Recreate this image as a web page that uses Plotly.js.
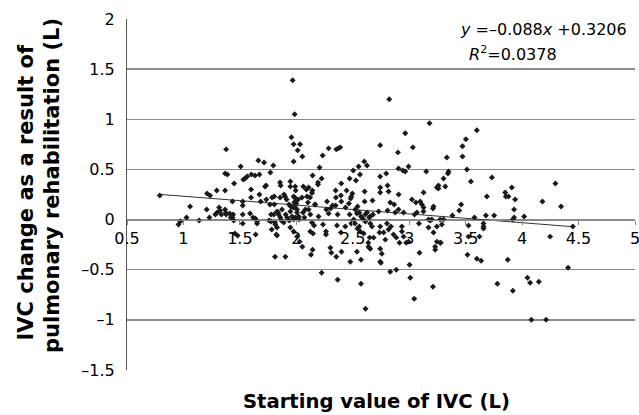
<!DOCTYPE html>
<html>
<head>
<meta charset="utf-8">
<script src="https://cdn.plot.ly/plotly-3.0.1.min.js"></script>
<style>html,body{margin:0;padding:0;background:#fff;}#chart{width:639px;height:415px;}</style>
</head>
<body>
<div id="chart"></div>
<script>
// Starting value of IVC (L) and IVC change (L)
var startIVC = [
0.79,0.956,0.973,1.027,1.059,1.139,1.206,1.23,1.21,1.236,1.295,1.283,1.298,1.316,1.325,1.336,1.369,1.374,1.41,1.44,1.419,1.445,1.369,1.378,1.369,1.389,1.449,1.434,1.507,1.457,1.48,1.378,1.434,
1.525,1.525,1.525,1.525,1.531,1.546,1.564,1.599,1.599,1.673,1.602,1.634,1.673,1.664,1.714,1.796,1.684,1.723,1.59,1.617,1.637,1.652,1.652,1.64,1.732,1.77,1.734,1.785,1.767,1.805,
1.758,1.776,1.811,1.829,1.782,1.823,1.829,1.811,1.903,1.858,1.776,1.814,1.838,1.867,1.888,1.905,1.918,1.938,1.962,1.976,1.947,1.976,2.006,2.029,2.053,1.935,1.982,2.015,
1.856,1.861,1.891,1.90,1.914,1.856,1.947,1.947,1.994,1.985,2.0,1.95,1.97,1.99,1.956,1.976,2.033,2.012,2.053,1.976,1.967,1.985,1.99,2.088,2.139,2.062,2.109,2.142,2.095,2.121,
2.144,2.224,2.192,2.192,2.165,2.206,2.233,2.286,2.354,2.372,2.389,
1.805,1.976,1.991,2.05,2.103,2.08,2.006,1.947,1.873,1.829,1.843,1.80,1.991,2.021,
2.006,2.024,2.059,2.071,2.109,2.124,2.139,2.157,2.124,2.148,2.13,2.144,2.168,2.197,2.224,2.236,2.263,2.263,2.265,2.286,2.304,2.321,2.348,2.366,
2.301,2.31,2.354,2.40,2.366,2.36,2.395,2.434,2.472,2.487,2.507,2.436,2.466,2.522,2.537,2.558,2.573,2.587,2.611,2.626,2.646,2.679,
2.519,2.542,2.558,2.566,2.537,2.478,2.573,2.573,2.613,2.637,2.646,2.649,2.596,2.611,2.655,2.737,2.743,2.272,2.543,
2.398,2.348,2.395,2.351,2.445,2.496,2.481,2.472,2.528,2.504,2.564,2.552,2.602,2.626,2.605,2.675,2.398,2.487,2.605,2.743,2.743,2.743,
2.823,3.18,3.599,2.965,3.032,3.502,3.472,3.472,2.90,2.905,2.944,2.965,2.994,3.151,3.333,3.348,2.796,2.808,2.743,2.817,2.832,2.867,
3.024,3.059,3.097,3.112,3.068,3.126,3.215,3.21,3.245,3.319,3.304,3.127,2.729,2.808,2.876,2.905,2.95,3.047,3.171,3.20,3.274,
2.655,2.67,2.743,2.803,2.817,2.861,2.885,2.935,2.95,2.994,2.64,2.655,2.743,2.788,3.171,3.215,3.245,3.274,3.23,3.23,3.091,
2.832,2.885,3.003,3.009,3.21,3.044,3.304,3.289,3.245,2.749,2.757,2.773,2.838,2.914,2.935,2.973,3.086,3.186,2.684,2.906,3.127,3.259,3.259,
3.511,3.343,3.546,3.732,3.688,3.85,3.856,3.879,3.909,3.938,3.929,3.918,3.929,4.018,4.18,4.295,4.345,3.383,3.443,3.46,3.578,3.679,3.752,
3.525,3.658,3.658,3.658,3.622,3.525,3.28,3.516,3.599,3.637,3.873,4.248,4.449,4.407,3.781,3.918,4.047,4.071,4.148,4.082,4.212
];
var changeIVC = [
0.24,-0.05,-0.02,0.02,0.13,-0.01,0.10,0.02,0.26,0.24,0.29,0.05,0.07,0.12,0.09,0.05,0.10,0.07,0.06,0.05,0.02,-0.01,0.29,0.70,0.46,0.45,0.36,0.18,0.53,-0.14,-0.16,0.05,0.02,
0.18,0.14,0.05,-0.04,0.40,0.41,0.43,0.30,0.22,0.25,0.45,0.44,0.45,0.59,0.57,0.54,0.18,0.33,0.06,0.02,0.01,-0.02,-0.04,-0.15,0.34,0.47,0.20,0.22,0.15,0.15,
-0.01,-0.02,-0.03,-0.08,-0.10,-0.15,-0.16,-0.37,-0.37,0.02,0.05,-0.05,0.07,-0.01,-0.03,0.05,0.02,-0.01,0.03,0.0,-0.08,-0.12,-0.17,-0.22,-0.27,0.15,0.17,0.20,
0.37,0.34,0.25,0.23,0.20,0.22,0.38,0.33,0.29,0.22,0.16,0.13,0.12,0.12,0.82,0.75,0.75,0.69,0.63,0.58,1.39,1.05,0.33,0.30,0.265,0.33,0.32,0.29,0.23,0.22,
0.44,0.41,0.37,0.35,0.15,0.52,0.64,0.71,0.70,0.71,0.72,
0.23,0.23,0.18,0.22,0.17,0.10,0.10,0.08,0.10,0.08,0.05,0.05,0.02,0.03,
0.07,0.0,0.07,0.02,0.10,0.05,-0.03,-0.06,-0.12,-0.14,-0.35,-0.30,0.15,0.03,-0.53,-0.05,-0.12,-0.15,0.10,0.06,0.11,0.14,0.14,0.05,
-0.28,-0.33,-0.37,-0.32,-0.60,-0.06,-0.13,-0.07,0.05,-0.04,0.0,0.12,0.16,0.10,0.06,0.07,0.03,0.01,0.05,0.07,0.02,0.05,
-0.04,-0.09,-0.07,-0.12,-0.32,-0.42,-0.40,-0.64,-0.89,-0.23,-0.28,-0.18,-0.14,-0.02,-0.04,-0.13,-0.42,0.18,0.13,
0.36,0.29,0.24,0.22,0.29,0.26,0.21,0.41,0.39,0.49,0.45,0.53,0.58,0.54,0.28,0.19,0.18,0.23,0.18,0.74,0.43,0.32,
1.20,0.96,0.89,0.86,0.72,0.80,0.73,0.63,0.67,0.51,0.49,0.48,0.53,0.48,0.62,0.48,0.46,0.34,0.27,0.28,0.17,0.15,
0.20,0.17,0.18,0.15,0.07,0.08,0.13,0.11,0.32,0.33,0.41,0.27,0.08,0.09,0.07,0.10,0.07,0.05,0.0,0.0,0.0,
0.03,-0.07,-0.07,-0.04,-0.10,-0.15,-0.18,-0.07,-0.17,-0.22,-0.27,-0.29,-0.29,-0.20,-0.08,-0.13,-0.22,-0.23,-0.27,-0.30,-0.33,
-0.52,-0.50,-0.45,-0.58,-0.67,-0.79,0.0,-0.05,-0.07,-0.43,-0.34,-0.13,-0.07,-0.23,-0.12,-0.23,-0.04,-0.01,-0.18,0.25,0.12,0.34,0.31,
0.50,0.46,0.38,0.42,0.23,0.27,0.23,0.23,0.32,0.20,0.10,0.0,0.02,0.03,0.18,0.36,0.13,0.04,0.09,0.15,0.02,0.04,0.04,
-0.06,-0.04,-0.07,-0.09,-0.17,-0.17,-0.23,-0.35,-0.39,-0.41,-0.40,-0.17,-0.07,-0.48,-0.64,-0.71,-0.58,-0.63,-0.62,-1.0,-1.0
];
// Linear trend reported on the chart
var trendSlope = -0.088;
var trendIntercept = 0.3206;
var trendLabel = "<i>y</i> =–0.088<i>x</i> +0.3206";
var r2Label = "<i>R</i><sup>2</sup>=0.0378";
var xTickVals = [0.5,1,1.5,2,2.5,3,3.5,4,4.5,5];
var xTickText = ["0.5","1","1.5","2","2.5","3","3.5","4","4.5","5"];
var yTickVals = [-1.5,-1,-0.5,0,0.5,1,1.5,2];
var yTickText = ["–1.5","–1","–0.5","0","0.5","1","1.5","2"];
var xTitle = "Starting value of IVC (L)";
var yTitleLines = ["IVC change as a result of", "pulmonary rehabilitation (L)"];

var xMin = Math.min.apply(null, startIVC);
var xMax = Math.max.apply(null, startIVC);
var trendX = [xMin, xMax];
var trendY = trendX.map(function(v){ return trendSlope * v + trendIntercept; });

var FONT = "DejaVu Sans, sans-serif";
var yRange = [-1.5, 2];
var zeroPos = (0 - yRange[0]) / (yRange[1] - yRange[0]);

var data = [
  {x: trendX, y: trendY, mode: "lines", type: "scatter", line: {color: "#333", width: 1}, hoverinfo: "skip"},
  {x: startIVC, y: changeIVC, mode: "markers", type: "scatter",
   marker: {symbol: "diamond", size: 4.6, color: "#1a1a1a"}}
];
var layout = {
  width: 639, height: 415,
  margin: {l: 127, r: 4, t: 19, b: 45, pad: 0},
  paper_bgcolor: "#fff", plot_bgcolor: "#fff",
  showlegend: false,
  font: {family: FONT, size: 16, color: "#000"},
  xaxis: {
    range: [0.5, 5], tickmode: "array", tickvals: xTickVals, ticktext: xTickText,
    anchor: "free", position: zeroPos, showline: true, linecolor: "#8a8a8a", linewidth: 1.5,
    ticks: "outside", ticklen: 4, tickcolor: "#8a8a8a", showgrid: false, zeroline: false,
    ticklabeloverflow: "allow",
    tickfont: {family: FONT, size: 16, color: "#000"}
  },
  yaxis: {
    range: yRange, tickmode: "array", tickvals: yTickVals, ticktext: yTickText,
    showgrid: true, gridcolor: "#8a8a8a", gridwidth: 1.3, zeroline: false,
    showline: true, linecolor: "#555", linewidth: 1, ticks: "", ticklabelstandoff: 8,
    tickfont: {family: FONT, size: 16, color: "#000"}
  },
  annotations: [
    {text: "<b>" + xTitle + "</b>", xref: "paper", yref: "paper", x: 0.491, y: -0.09,
     xanchor: "center", yanchor: "middle", showarrow: false, font: {family: FONT, size: 19.6, color: "#000"}},
    {text: "<b>" + yTitleLines[0] + "</b>", xref: "paper", yref: "paper", x: -0.1969, y: 0.5057,
     xanchor: "center", yanchor: "middle", textangle: -90, showarrow: false,
     font: {family: FONT, size: 21, color: "#000"}},
    {text: "<b>" + yTitleLines[1] + "</b>", xref: "paper", yref: "paper", x: -0.1476, y: 0.5242,
     xanchor: "center", yanchor: "middle", textangle: -90, showarrow: false,
     font: {family: FONT, size: 21, color: "#000"}},
    {text: trendLabel, xref: "paper", yref: "paper", x: 0.988, y: 0.969,
     xanchor: "right", yanchor: "middle", showarrow: false, font: {family: FONT, size: 16, color: "#000"}},
    {text: r2Label, xref: "paper", yref: "paper", x: 0.67, y: 0.902,
     xanchor: "left", yanchor: "middle", showarrow: false, font: {family: FONT, size: 16, color: "#000"}}
  ]
};
Plotly.newPlot("chart", data, layout, {displayModeBar: false, staticPlot: true});
</script>
</body>
</html>
